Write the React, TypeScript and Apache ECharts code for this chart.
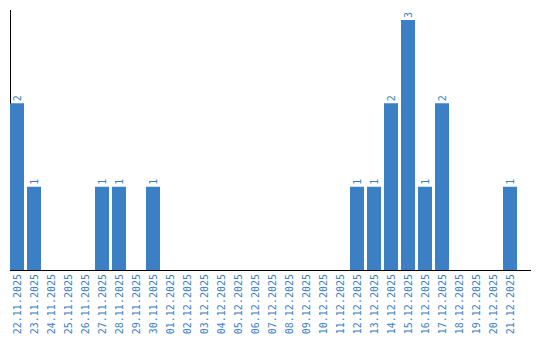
import React, { useEffect, useRef } from "react";
import * as echarts from "echarts";

const categories = [
  "22.11.2025", "23.11.2025", "24.11.2025", "25.11.2025", "26.11.2025",
  "27.11.2025", "28.11.2025", "29.11.2025", "30.11.2025", "01.12.2025",
  "02.12.2025", "03.12.2025", "04.12.2025", "05.12.2025", "06.12.2025",
  "07.12.2025", "08.12.2025", "09.12.2025", "10.12.2025", "11.12.2025",
  "12.12.2025", "13.12.2025", "14.12.2025", "15.12.2025", "16.12.2025",
  "17.12.2025", "18.12.2025", "19.12.2025", "20.12.2025", "21.12.2025",
];

const counts = [
  2, 1, 0, 0, 0,
  1, 1, 0, 1, 0,
  0, 0, 0, 0, 0,
  0, 0, 0, 0, 0,
  1, 1, 2, 3, 1,
  2, 0, 0, 0, 1,
];

const BLUE = "#3b7fc4";
const FONT = "DejaVu Sans Mono";

export default function App() {
  const ref = useRef<HTMLDivElement>(null);

  useEffect(() => {
    document.body.style.margin = "0";
    const chart = echarts.init(ref.current!, null, { renderer: "svg" });
    chart.setOption({
      animation: false,
      grid: { left: 8.5, width: 510, top: 20, height: 250 },
      xAxis: {
        type: "category",
        data: categories,
        axisLine: { show: false },
        axisTick: { show: false },
        axisLabel: {
          rotate: 90,
          margin: 4,
          interval: 0,
          color: BLUE,
          fontFamily: FONT,
          fontSize: 10,
        },
      },
      yAxis: {
        type: "value",
        min: 0,
        max: 3,
        show: false,
        splitLine: { show: false },
      },
      graphic: [
        {
          type: "line",
          shape: { x1: 10.5, y1: 10, x2: 10.5, y2: 270 },
          style: { stroke: "#000", lineWidth: 1 },
        },
        {
          type: "line",
          shape: { x1: 10, y1: 270.5, x2: 531, y2: 270.5 },
          style: { stroke: "#000", lineWidth: 1 },
        },
      ],
      series: [
        {
          type: "bar",
          data: counts,
          barWidth: 14,
          itemStyle: { color: BLUE },
          label: {
            show: true,
            position: "top",
            rotate: 90,
            align: "left",
            verticalAlign: "middle",
            distance: 2,
            color: BLUE,
            fontFamily: FONT,
            fontSize: 10,
            formatter: (p: any) => (p.value ? String(p.value) : ""),
          },
        },
      ],
    });
    return () => chart.dispose();
  }, []);

  return <div ref={ref} style={{ width: 540, height: 340 }} />;
}
